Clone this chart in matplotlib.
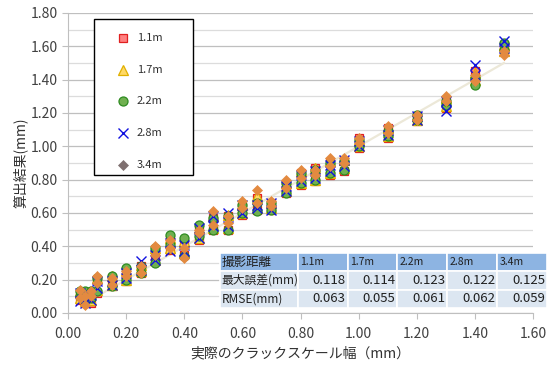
import matplotlib
matplotlib.use("Agg")
import matplotlib.pyplot as plt
from matplotlib.patches import Rectangle
import numpy as np

plt.rcParams['font.family'] = ['Noto Sans CJK JP', 'DejaVu Sans']

# クラックスケール幅 (mm)
widths = [0.04, 0.06, 0.08, 0.10, 0.15, 0.20, 0.25, 0.30, 0.35, 0.40, 0.45,
          0.50, 0.55, 0.60, 0.65, 0.70, 0.75, 0.80, 0.85, 0.90, 0.95, 1.00,
          1.10, 1.20, 1.30, 1.40, 1.50]

# 撮影距離ごとの算出結果 (各幅で2回計測)
res_11 = [(0.08, 0.12), (0.06, 0.11), (0.06, 0.12), (0.12, 0.20), (0.16, 0.21),
          (0.19, 0.25), (0.24, 0.28), (0.31, 0.38), (0.38, 0.44), (0.35, 0.42),
          (0.44, 0.50), (0.50, 0.57), (0.50, 0.58), (0.59, 0.64), (0.62, 0.69),
          (0.62, 0.66), (0.72, 0.77), (0.77, 0.84), (0.79, 0.87), (0.83, 0.90),
          (0.85, 0.91), (0.99, 1.05), (1.05, 1.11), (1.15, 1.18), (1.23, 1.27),
          (1.41, 1.45), (1.58, 1.61)]
res_17 = [(0.09, 0.13), (0.07, 0.12), (0.08, 0.13), (0.14, 0.21), (0.17, 0.22),
          (0.20, 0.26), (0.25, 0.29), (0.32, 0.39), (0.39, 0.45), (0.36, 0.43),
          (0.45, 0.51), (0.51, 0.58), (0.51, 0.59), (0.60, 0.65), (0.63, 0.70),
          (0.63, 0.66), (0.73, 0.78), (0.78, 0.85), (0.80, 0.87), (0.84, 0.91),
          (0.87, 0.92), (1.00, 1.04), (1.06, 1.11), (1.16, 1.18), (1.24, 1.29),
          (1.40, 1.44), (1.57, 1.61)]
res_22 = [(0.10, 0.13), (0.08, 0.13), (0.09, 0.13), (0.13, 0.21), (0.16, 0.22),
          (0.20, 0.27), (0.24, 0.28), (0.30, 0.39), (0.41, 0.47), (0.34, 0.45),
          (0.46, 0.53), (0.50, 0.57), (0.50, 0.58), (0.60, 0.65), (0.61, 0.66),
          (0.62, 0.66), (0.72, 0.78), (0.78, 0.84), (0.80, 0.86), (0.84, 0.90),
          (0.86, 0.91), (1.00, 1.04), (1.06, 1.09), (1.16, 1.19), (1.25, 1.27),
          (1.37, 1.41), (1.58, 1.62)]
res_28 = [(0.07, 0.12), (0.06, 0.12), (0.08, 0.11), (0.15, 0.19), (0.17, 0.19),
          (0.21, 0.24), (0.26, 0.31), (0.32, 0.35), (0.37, 0.42), (0.37, 0.41),
          (0.45, 0.51), (0.52, 0.58), (0.52, 0.60), (0.60, 0.65), (0.63, 0.65),
          (0.62, 0.66), (0.73, 0.76), (0.79, 0.83), (0.81, 0.85), (0.85, 0.89),
          (0.88, 0.92), (1.00, 1.03), (1.07, 1.10), (1.16, 1.18), (1.21, 1.27),
          (1.43, 1.49), (1.59, 1.63)]
res_34 = [(0.09, 0.14), (0.05, 0.10), (0.10, 0.13), (0.18, 0.22), (0.17, 0.21),
          (0.22, 0.25), (0.24, 0.28), (0.35, 0.40), (0.39, 0.44), (0.33, 0.39),
          (0.48, 0.50), (0.53, 0.61), (0.54, 0.58), (0.63, 0.67), (0.66, 0.74),
          (0.64, 0.67), (0.75, 0.80), (0.81, 0.86), (0.83, 0.86), (0.88, 0.93),
          (0.90, 0.93), (1.02, 1.05), (1.08, 1.12), (1.16, 1.19), (1.27, 1.30),
          (1.39, 1.43), (1.55, 1.57)]

# 誤差の集計表
dist_labels = ['1.1m', '1.7m', '2.2m', '2.8m', '3.4m']
max_err = ['0.118', '0.114', '0.123', '0.122', '0.125']
rmse = ['0.063', '0.055', '0.061', '0.062', '0.059']

x_ticks = [0.0, 0.2, 0.4, 0.6, 0.8, 1.0, 1.2, 1.4, 1.6]
y_ticks = [0.0, 0.2, 0.4, 0.6, 0.8, 1.0, 1.2, 1.4, 1.6, 1.8]

series = [
    (res_11, dict(marker='s', ms=5.5, mfc='#ff8080', mec='#e02020', mew=0.9)),
    (res_17, dict(marker='^', ms=6.5, mfc='#ffd966', mec='#e0b000', mew=0.9)),
    (res_22, dict(marker='o', ms=6.5, mfc='#70b050', mec='#2e8b20', mew=0.9)),
    (res_28, dict(marker='x', ms=6.5, mfc='none', mec='#1010e0', mew=1.0)),
    (res_34, dict(marker='D', ms=5.5, mfc='#e38a40', mec='#e38a40', mew=0.5)),
]

fig = plt.figure(figsize=(5.57, 3.70), dpi=100)
ax = fig.add_axes([68 / 557, 57 / 370, 465 / 557, 300 / 370])

# 1:1 の線
ax.plot([0.05, 1.5], [0.05, 1.5], color='#ece8d8', lw=1.6, zorder=1)

for res, style in series:
    xs = np.repeat(widths, 2)
    ys = np.array(res).ravel()
    ax.plot(xs, ys, ls='none', zorder=3, **style)

ax.set_xlim(0, 1.6)
ax.set_ylim(0, 1.8)
ax.set_xticks(x_ticks)
ax.set_yticks(y_ticks)
ax.set_xticklabels([f'{v:.2f}' for v in x_ticks])
ax.set_yticklabels([f'{v:.2f}' for v in y_ticks])
ax.set_yticks(np.arange(0.1, 1.8, 0.2), minor=True)
ax.grid(axis='y', which='major', color='#bfbfbf', lw=0.9, zorder=0)
ax.grid(axis='y', which='minor', color='#dcdcdc', lw=0.9, zorder=0)
ax.set_axisbelow(True)
for s in ['top', 'right']:
    ax.spines[s].set_visible(False)
for s in ['left', 'bottom']:
    ax.spines[s].set_color('#bfbfbf')
ax.tick_params(axis='both', which='major', colors='#bfbfbf', labelcolor='#404040',
               labelsize=10, length=4)
ax.tick_params(axis='y', which='minor', length=0)
ax.tick_params(axis='x', pad=6)

ax.set_xlabel('実際のクラックスケール幅（mm）', fontsize=10, color='#303030', labelpad=4)
ax.set_ylabel('算出結果(mm)', fontsize=10, color='#303030', labelpad=2)

# 凡例 (枠とマーカーを手で配置)
to_ax = lambda px, py: ((px - 68) / 465, (313 - py) / 300)
x0, y0 = to_ax(94, 175)
x1, y1 = to_ax(193, 19)
ax.add_patch(Rectangle((x0, y0), x1 - x0, y1 - y0, transform=ax.transAxes,
                       facecolor='white', edgecolor='black', lw=1.0, zorder=6,
                       clip_on=False))
legend_rows = [38, 70, 101, 133, 165]
for (res, style), lbl, py in zip(series, dist_labels, legend_rows):
    st = dict(style)
    if st['marker'] == 'D':
        st.update(mfc='#7f7070', mec='#7f7070', ms=5)
    mx, my = to_ax(123, py)
    ax.plot([mx], [my], transform=ax.transAxes, ls='none', zorder=7, clip_on=False, **st)
    tx, ty = to_ax(137, py)
    ax.text(tx, ty, lbl, transform=ax.transAxes, fontsize=8, color='#303030',
            va='center', ha='left', zorder=7)

# 集計表
cells = [['撮影距離'] + dist_labels, ['最大誤差(mm)'] + max_err, ['RMSE(mm)'] + rmse]
tbl = ax.table(cellText=cells, bbox=[152 / 465, 5 / 300, 327 / 465, 55 / 300],
               colWidths=[78] + [50] * 5, cellLoc='right')
tbl.auto_set_font_size(False)
for (r, c), cell in tbl.get_celld().items():
    cell.set_edgecolor('white')
    cell.set_linewidth(1.2)
    cell.set_facecolor('#8db4e2' if r == 0 else '#dce6f1')
    txt = cell.get_text()
    txt.set_color('#202020')
    if r == 0:
        txt.set_fontsize(7.5 if c > 0 else 9)
        cell.set_text_props(ha='left')
        cell.PAD = 0.05 if c > 0 else 0.02
    else:
        cell.PAD = 0.04
        if c == 0:
            txt.set_fontsize(8.5)
            cell.set_text_props(ha='left')
            cell.PAD = 0.02
        else:
            txt.set_fontsize(9.5)
tbl.set_clip_on(False)
tbl.set_zorder(5)

fig.savefig('out.png', dpi=100)
